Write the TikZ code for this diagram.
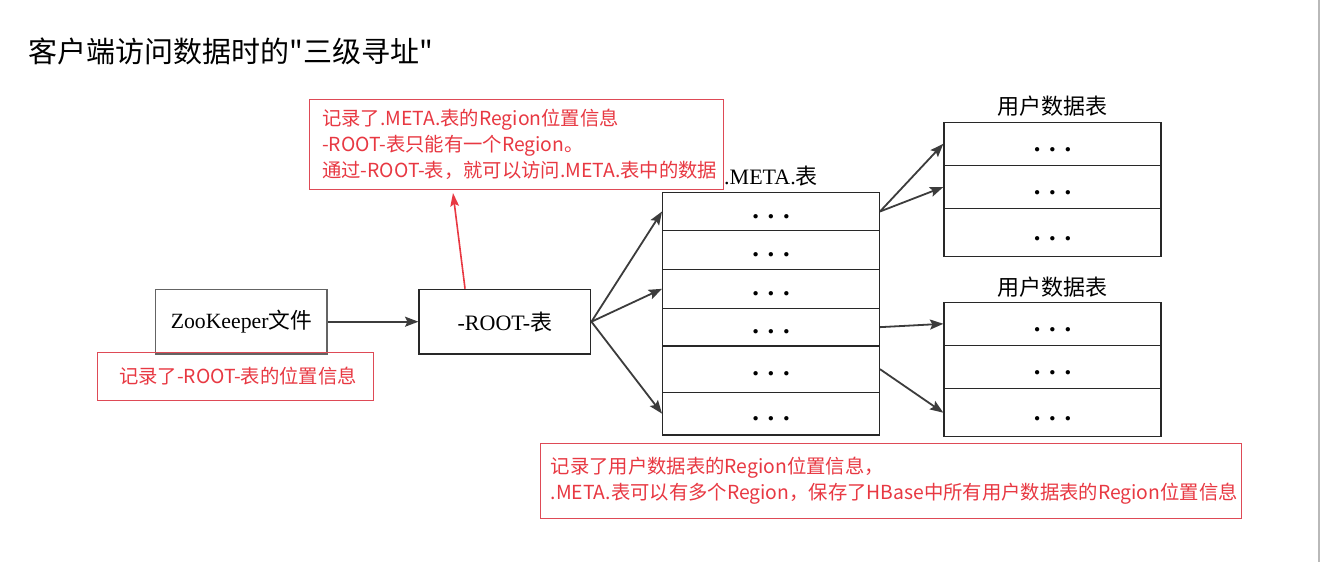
\documentclass[tikz,border=0pt]{standalone}
\usepackage{fontspec}
\setmainfont{Liberation Serif}
\newfontfamily\cjk{Noto Sans CJK SC}
\usetikzlibrary{arrows.meta}
\definecolor{redtxt}{RGB}{232,56,66}
\definecolor{redline}{RGB}{222,74,86}
\definecolor{boxline}{RGB}{40,40,40}
\definecolor{arrowc}{RGB}{60,60,60}
\definecolor{zkline}{RGB}{100,100,100}
\begin{document}
\begin{tikzpicture}[x=0.75pt,y=-0.75pt,
  rowbox/.style={draw=boxline, line width=1pt, inner sep=0pt, minimum width=162.45pt},
  userrow/.style={draw=boxline, line width=1pt, inner sep=0pt, minimum width=162.75pt},
  dotstext/.style={inner sep=0pt, font=\fontsize{20pt}{20pt}\selectfont\bfseries},
  serifcap/.style={inner sep=0pt, font=\fontsize{16.5pt}{18pt}\selectfont},
  redbox/.style={draw=redline, line width=0.75pt, inner sep=0pt},
  redtext/.style={inner sep=0pt, text=redtxt, align=left, font=\fontsize{14.5pt}{19.5pt}\selectfont\cjk},
  darrow/.style={draw=arrowc, line width=1.35pt, -{Stealth[length=10pt,width=7.5pt,inset=1.8pt]}},
  redarrow/.style={draw=redtxt, line width=1.2pt, -{Stealth[length=10pt,width=6.5pt,inset=1.8pt]}}
]
\useasboundingbox (0,0) rectangle (1320,562);
\fill[white] (0,0) rectangle (1320,562);
\draw[gray!55, line width=1.1pt] (1319,0) -- (1319,562);

% title
\node[anchor=west, inner sep=0pt, font=\fontsize{21.75pt}{24pt}\selectfont\cjk] (title) at (28,51) {客户端访问数据时的"三级寻址"};

% ZooKeeper and ROOT
\node[draw=zkline, line width=1pt, minimum width=128.5pt, minimum height=48.5pt, inner sep=0pt,
      font=\fontsize{16.3pt}{18pt}\selectfont] (zk) at (241.4,321.7) {ZooKeeper{\cjk 文件}};
\node[draw=boxline, line width=1pt, minimum width=128.8pt, minimum height=48.5pt, inner sep=0pt,
      font=\fontsize{16.5pt}{18pt}\selectfont] (root) at (504.9,321.7) {-ROOT-{\cjk 表}};

% META table
\node[rowbox, minimum height=28.8pt]  (m1) at (771,211.5) {};
\node[rowbox, minimum height=28.95pt] (m2) at (771,250) {};
\node[rowbox, minimum height=29.25pt] (m3) at (771,288.8) {};
\node[rowbox, minimum height=28.28pt] (m4) at (771,327.15) {};
\node[rowbox, minimum height=34.73pt] (m5) at (771,369.15) {};
\node[rowbox, minimum height=32.03pt] (m6) at (771,413.65) {};
\foreach \r in {m1,m2,m3,m4,m5,m6}
  \node[dotstext] at ([yshift=-3.75pt]\r.center) {.\hspace{6.5pt}.\hspace{6.5pt}.};
\node[serifcap] (metalbl) at (771,176) {.META.{\cjk 表}};

% user tables
\node[userrow, minimum height=32.25pt] (ua1) at (1052.5,143.8) {};
\node[userrow, minimum height=32.55pt] (ua2) at (1052.5,187) {};
\node[userrow, minimum height=36pt]    (ua3) at (1052.5,232.7) {};
\node[userrow, minimum height=32.25pt] (ub1) at (1052.5,323.8) {};
\node[userrow, minimum height=32.55pt] (ub2) at (1052.5,367) {};
\node[userrow, minimum height=36pt]    (ub3) at (1052.5,412.7) {};
\foreach \r in {ua1,ua2,ua3,ub1,ub2,ub3}
  \node[dotstext] at ([yshift=-4.2pt]\r.center) {.\hspace{6.5pt}.\hspace{6.5pt}.};
\node[serifcap] (ulbl1) at (1052.5,106) {\cjk 用户数据表};
\node[serifcap] (ulbl2) at (1052.5,287) {\cjk 用户数据表};

% arrows
\draw[darrow] (zk.east) -- (root.west);
\draw[darrow] (root.east) -- (m1.west);
\draw[darrow] (root.east) -- (m3.west);
\draw[darrow] (root.east) -- (m6.west);
\draw[darrow] (m1.east) -- (ua1.west);
\draw[darrow] (m1.east) -- (ua2.west);
\draw[darrow] (m4.east) -- (ub1.west);
\draw[darrow] (m5.east) -- (ub3.west);

% red notes
\node[redbox, minimum width=310.5pt, minimum height=67.5pt] (rb1) at (516,144.3) {};
\node[redtext, anchor=west] (rt1) at ([xshift=10.1pt]rb1.west)
  {记录了.META.表的Region位置信息\\-ROOT-表只能有一个Region。\\通过-ROOT-表，就可以访问.META.表中的数据};

\node[redbox, minimum width=207pt, minimum height=35.8pt] (rb2) at (235.3,376.2) {};
\node[redtext, anchor=west] (rt2) at ([xshift=16.5pt]rb2.west) {记录了-ROOT-表的位置信息};

\node[redbox, minimum width=525.75pt, minimum height=56.25pt] (rb3) at (890.5,480.5) {};
\node[redtext, anchor=west] (rt3) at ([xshift=8.25pt]rb3.west)
  {记录了用户数据表的Region位置信息，\\.META.表可以有多个Region，保存了HBase中所有用户数据表的Region位置信息};

\coordinate (rtip) at (453,193);
\draw[redarrow] ([xshift=-29.9pt]root.north) -- (rtip);
\end{tikzpicture}
\end{document}
